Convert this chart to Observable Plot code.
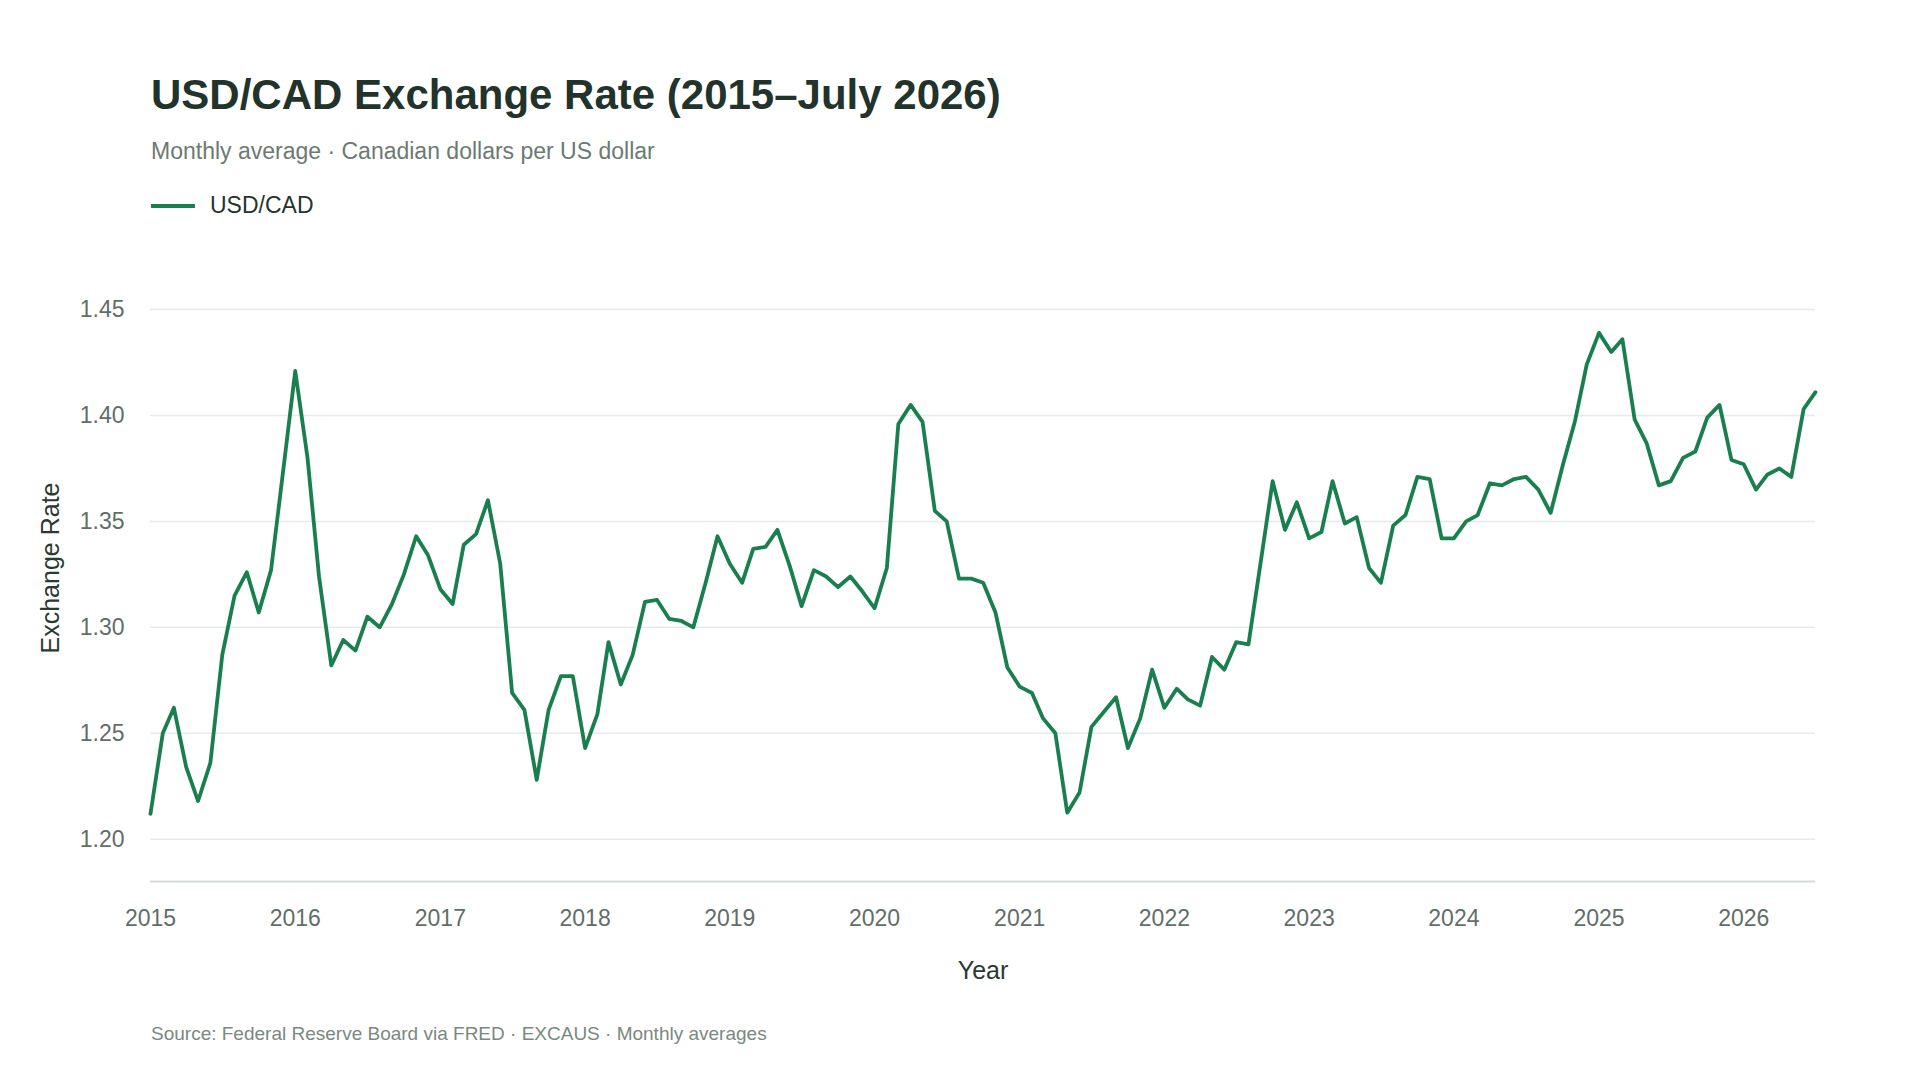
<!DOCTYPE html>
<html>
<head>
<meta charset="utf-8">
<script src="https://cdn.jsdelivr.net/npm/d3@7"></script>
<script src="https://cdn.jsdelivr.net/npm/@observablehq/plot@0.6"></script>
<style>
  html, body { margin: 0; padding: 0; background: #ffffff; }
  body { width: 1920px; height: 1080px; position: relative; overflow: hidden;
         font-family: "Liberation Sans", Arial, Helvetica, sans-serif; }
  .abs { position: absolute; white-space: nowrap; }
  #title { left: 151px; top: 74px; font-size: 42px; line-height: 42px; font-weight: 700; color: #22332b; }
  #subtitle { left: 151px; top: 140px; font-size: 23px; line-height: 23px; color: #6b7a73; }
  #legend-bar { left: 151px; top: 204px; width: 44px; height: 4px; background: #1a7f4f; }
  #legend-text { left: 210px; top: 194px; font-size: 23px; line-height: 23px; color: #25352d; }
  #chart { position: absolute; left: 0; top: 230px; }
  #source { left: 151px; top: 1024px; font-size: 19px; line-height: 19px; color: #7a8881; }
  #chart g[aria-label="y-axis label"], #chart g[aria-label="x-axis label"] { fill: #2a3a33; font-size: 25px; }
</style>
</head>
<body>
<div id="title" class="abs">USD/CAD Exchange Rate (2015–July 2026)</div>
<div id="subtitle" class="abs">Monthly average · Canadian dollars per US dollar</div>
<div id="legend-bar" class="abs"></div>
<div id="legend-text" class="abs">USD/CAD</div>
<div id="chart"></div>
<div id="source" class="abs">Source: Federal Reserve Board via FRED · EXCAUS · Monthly averages</div>
<script>
// Monthly averages, January 2015 through July 2026 (CAD per USD)
const startYear = 2015;
const rates2015 = [1.212, 1.250, 1.262, 1.234, 1.218, 1.236, 1.287, 1.315, 1.326, 1.307, 1.327, 1.373];
const rates2016 = [1.421, 1.380, 1.324, 1.282, 1.294, 1.289, 1.305, 1.300, 1.311, 1.325, 1.343, 1.334];
const rates2017 = [1.318, 1.311, 1.339, 1.344, 1.360, 1.330, 1.269, 1.261, 1.228, 1.261, 1.277, 1.277];
const rates2018 = [1.243, 1.259, 1.293, 1.273, 1.287, 1.312, 1.313, 1.304, 1.303, 1.300, 1.321, 1.343];
const rates2019 = [1.330, 1.321, 1.337, 1.338, 1.346, 1.329, 1.310, 1.327, 1.324, 1.319, 1.324, 1.317];
const rates2020 = [1.309, 1.328, 1.396, 1.405, 1.397, 1.355, 1.350, 1.323, 1.323, 1.321, 1.307, 1.281];
const rates2021 = [1.272, 1.269, 1.257, 1.250, 1.2125, 1.222, 1.253, 1.260, 1.267, 1.243, 1.257, 1.280];
const rates2022 = [1.262, 1.271, 1.266, 1.263, 1.286, 1.280, 1.293, 1.292, 1.331, 1.369, 1.346, 1.359];
const rates2023 = [1.342, 1.345, 1.369, 1.349, 1.352, 1.328, 1.321, 1.348, 1.353, 1.371, 1.370, 1.342];
const rates2024 = [1.342, 1.350, 1.353, 1.368, 1.367, 1.370, 1.371, 1.365, 1.354, 1.376, 1.397, 1.424];
const rates2025 = [1.439, 1.430, 1.436, 1.398, 1.387, 1.367, 1.369, 1.380, 1.383, 1.399, 1.405, 1.379];
const rates2026 = [1.377, 1.365, 1.372, 1.375, 1.371, 1.403, 1.411];

const yearlyRates = [rates2015, rates2016, rates2017, rates2018, rates2019, rates2020,
                     rates2021, rates2022, rates2023, rates2024, rates2025, rates2026];
const xTickYears = [2015, 2016, 2017, 2018, 2019, 2020, 2021, 2022, 2023, 2024, 2025, 2026];
const yTicks = [1.20, 1.25, 1.30, 1.35, 1.40, 1.45];
const yDomain = [1.18, 1.476];

const data = [];
yearlyRates.forEach((arr, yi) => {
  arr.forEach((v, m) => data.push({date: new Date(Date.UTC(startYear + yi, m, 1)), rate: v}));
});
const xTicks = xTickYears.map(y => new Date(Date.UTC(y, 0, 1)));
const xDomain = [data[0].date, data[data.length - 1].date];

const chart = Plot.plot({
  width: 1920,
  height: 760,
  marginLeft: 150,
  marginRight: 105,
  marginTop: 24,
  marginBottom: 109,
  style: {
    fontFamily: '"Liberation Sans", Arial, Helvetica, sans-serif',
    fontSize: "23px",
    color: "#5f6e67",
    background: "transparent",
    overflow: "visible"
  },
  x: { type: "utc", domain: xDomain },
  y: { domain: yDomain },
  marks: [
    Plot.gridY(yTicks, { stroke: "#e4ebe8", strokeOpacity: 1, strokeWidth: 1.5 }),
    Plot.ruleY([yDomain[0]], { stroke: "#d3dbd8", strokeWidth: 2 }),
    Plot.axisY(yTicks, {
      tickSize: 0, tickPadding: 26,
      tickFormat: d => d.toFixed(2),
      fill: "#5f6e67",
      label: "Exchange Rate", labelAnchor: "center", labelOffset: 109, labelArrow: "none"
    }),
    Plot.axisX(xTicks, {
      tickSize: 0, tickPadding: 28,
      tickFormat: d => d.getUTCFullYear().toString(),
      fill: "#5f6e67",
      label: "Year", labelAnchor: "center", labelOffset: 97, labelArrow: "none"
    }),
    Plot.lineY(data, {
      x: "date", y: "rate",
      stroke: "#1a7f4f", strokeWidth: 3.8,
      strokeLinejoin: "round", strokeLinecap: "round"
    })
  ]
});
document.getElementById("chart").appendChild(chart);
</script>
</body>
</html>
